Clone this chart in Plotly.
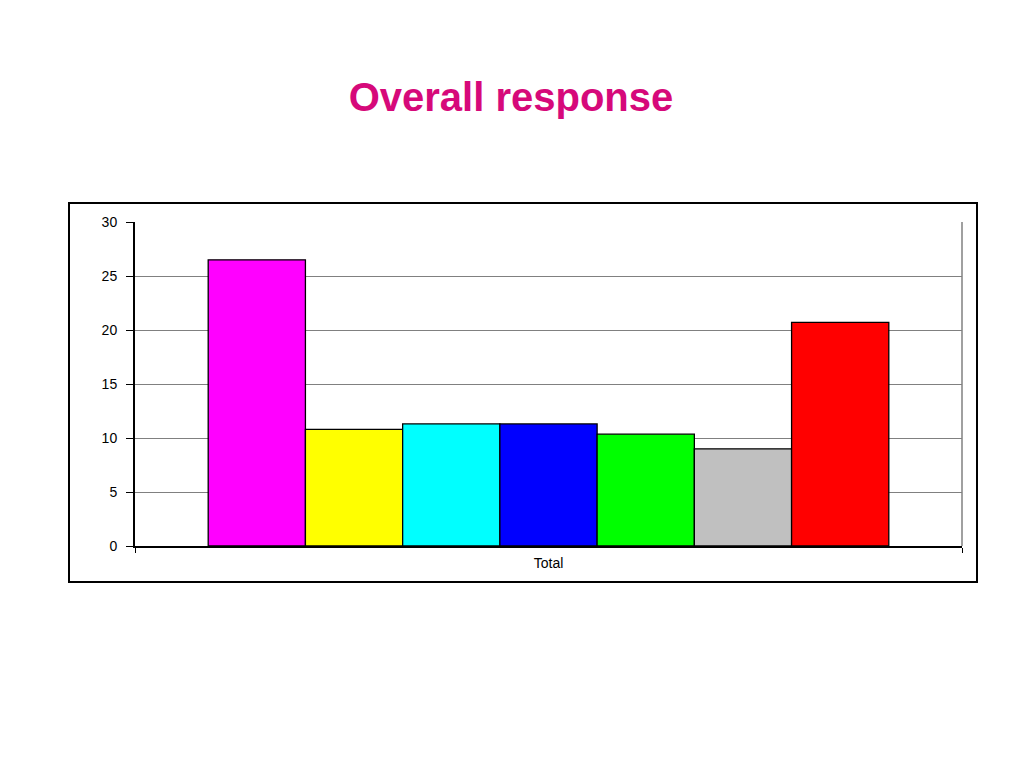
import plotly.graph_objects as go

categories = ["Total"]
series_names = ["S1", "S2", "S3", "S4", "S5", "S6", "S7"]
series_values = [26.5, 10.8, 11.3, 11.3, 10.35, 9.0, 20.7]
series_colors = ["#FF00FF", "#FFFF00", "#00FFFF", "#0000FF", "#00FF00", "#C0C0C0", "#FF0000"]
y_ticks = [0, 5, 10, 15, 20, 25, 30]

fig = go.Figure()
for name, val, col in zip(series_names, series_values, series_colors):
    fig.add_trace(go.Bar(
        x=categories, y=[val], name=name,
        marker=dict(color=col, line=dict(color="black", width=1.3)),
        showlegend=False,
    ))

font_family = "Liberation Sans, Arial, sans-serif"

# page body has an 8px margin; offsets compensate for that
fig.update_layout(
    width=1024, height=768,
    paper_bgcolor="white", plot_bgcolor="white",
    margin=dict(l=127, r=70, t=214, b=230, autoexpand=False),
    barmode="group", bargap=0.177, bargroupgap=0,
    title=dict(
        text="<b>Overall response</b>",
        font=dict(family=font_family, size=40, color="#D6097A"),
        x=503 / 1024, xref="container", xanchor="center",
        y=1 - 89 / 768, yref="container", yanchor="middle",
    ),
    xaxis=dict(
        type="category",
        showline=True, linecolor="black", linewidth=1.5,
        ticks="outside", tickson="boundaries", ticklen=5, tickcolor="black",
        tickfont=dict(family=font_family, size=14, color="black"),
        ticklabelstandoff=3,
        showgrid=False,
    ),
    yaxis=dict(
        range=[0, 30], tickvals=y_ticks,
        showline=True, linecolor="black", linewidth=2,
        ticks="outside", ticklen=7, tickcolor="black",
        tickfont=dict(family=font_family, size=14, color="black"),
        ticklabelstandoff=6,
        showgrid=True, gridcolor="#808080", gridwidth=1,
        zeroline=False,
    ),
    shapes=[
        dict(type="rect", xref="paper", yref="paper",
             x0=(69 - 135) / 827, x1=(977 - 135) / 827,
             y0=(546 - 582) / 324, y1=(546 - 203) / 324,
             line=dict(color="black", width=2), fillcolor="rgba(0,0,0,0)", layer="below"),
        dict(type="line", xref="paper", yref="paper",
             x0=1, x1=1, y0=0, y1=1,
             line=dict(color="#808080", width=1.5)),
    ],
)

fig.write_html("out.html")
